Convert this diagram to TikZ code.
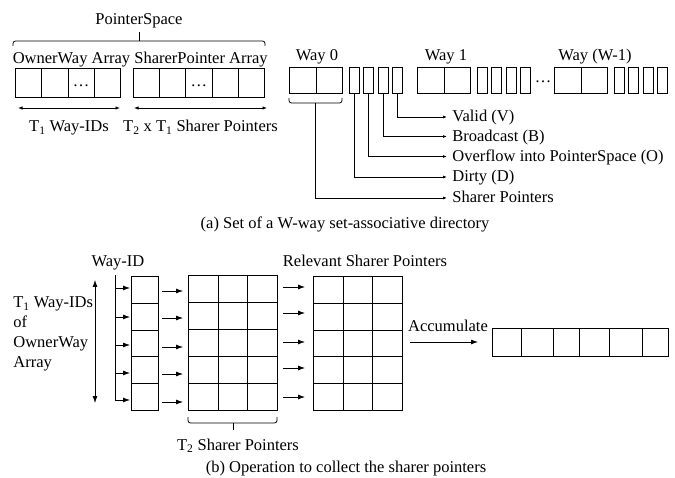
\documentclass[tikz,border=0pt]{standalone}
\usepackage{fontspec}
\setmainfont{Liberation Serif}
\usetikzlibrary{arrows.meta,calc}
\begin{document}
\begin{tikzpicture}[x=1pt,y=-1pt,line width=0.8pt,
  cell/.style={draw,rectangle,inner sep=0pt,anchor=north west},
  lbl/.style={font=\fontsize{16.5}{19}\selectfont,inner sep=0pt,anchor=base},
  tip/.style={-{Latex[length=7pt,width=5pt]}},
  stip/.style={-{Latex[length=4pt,width=3pt]}},
  dtip/.style={{Latex[length=4.5pt,width=3.5pt]}-{Latex[length=4.5pt,width=3.5pt]}},
  btip/.style={{Latex[length=7pt,width=5pt]}-{Latex[length=7pt,width=5pt]}},
  brk/.style={rounded corners=2.5pt}]
\useasboundingbox (0,0) rectangle (675,478);

% ---------- (a) left arrays
\node[lbl] (ps) at (139,25) {PointerSpace};
\coordinate (pb1) at (13,46); \coordinate (pb2) at (265,46);
\coordinate (pbm) at (139,41); \coordinate (pbt) at (139,32);
\draw[brk] (pb1) -- (13,41) -- (265,41) -- (pb2);
\draw (pbm) -- (pbt);
\node[lbl] (owl) at (71.5,64) {OwnerWay Array};
\node[lbl] (spl) at (201,64) {SharerPointer Array};
\foreach \i in {0,...,3}
  \node[cell,minimum width=26.25,minimum height=29] (ow\i) at ({15+\i*26.25},68) {};
\foreach \i in {0,...,4}
  \node[cell,minimum width=26.2,minimum height=29] (sp\i) at ({133+\i*26.2},68) {};
\node[lbl] (owd) at ($(ow2.center)+(0,3.5)$) {\dots};
\node[lbl] (spd) at ($(sp2.center)+(0,3.5)$) {\dots};
\coordinate (a1) at (18,108); \coordinate (a2) at (120,108);
\coordinate (a3) at (134,108); \coordinate (a4) at (267,108);
\draw[dtip] (a1) -- (a2);
\draw[dtip] (a3) -- (a4);
\node[lbl] (t1w) at (69,132) {T\textsubscript{1} Way-IDs};
\node[lbl] (t2t1) at (200.5,132) {T\textsubscript{2} x T\textsubscript{1} Sharer Pointers};

% ---------- (a) ways
\foreach \b/\n in {289/0,417/1,554/2}{
  \node[cell,minimum width=26.5,minimum height=26] (w\n a) at (\b,67) {};
  \node[cell,minimum width=26.5,minimum height=26] (w\n b) at (\b+26.5,67) {};
  \foreach \k in {0,...,3}
    \node[cell,minimum width=10,minimum height=26] (w\n s\k) at ({\b+59.5+\k*14.6},67) {};
}
\node[lbl] (wl0) at (317,61) {Way 0};
\node[lbl] (wl1) at (446,61) {Way 1};
\node[lbl] (wl2) at (595,61) {Way (W-1)};
\node[lbl] (wdots) at (543,83) {\dots};

\draw[brk] (289,98) -- (289,103) -- (342,103) -- (342,98);
\coordinate (brtip) at (315.5,103);

\coordinate (eV) at (447,117);
\coordinate (eB) at (447,136.5);
\coordinate (eO) at (447,156.5);
\coordinate (eD) at (447,177);
\coordinate (eS) at (447,198);
\draw[stip] (w0s3.south) |- (eV);
\draw[stip] (w0s2.south) |- (eB);
\draw[stip] (w0s1.south) |- (eO);
\draw[stip] (w0s0.south) |- (eD);
\draw[stip] (brtip) |- (eS);
\node[lbl,anchor=base west] (tV) at (452,122) {Valid (V)};
\node[lbl,anchor=base west] (tB) at (452,141.5) {Broadcast (B)};
\node[lbl,anchor=base west] (tO) at (452,161.5) {Overflow into PointerSpace (O)};
\node[lbl,anchor=base west] (tD) at (452,182) {Dirty (D)};
\node[lbl,anchor=base west] (tS) at (452,203) {Sharer Pointers};

\node[lbl] (capa) at (345,229) {(a) Set of a W-way set-associative directory};

% ---------- (b)
\node[lbl] (wid) at (118,267) {Way-ID};
\coordinate (vt) at (115,275);
\coordinate (vb) at (115,400);
\draw (vt) -- (vb);
\foreach \y in {288,317,345,373,400}
  \draw[tip] (115,\y) -- (130,\y);
\foreach \r in {0,...,4}
  \node[cell,minimum width=27,minimum height=26.8] (c\r) at (131,{276+\r*26.8}) {};
\foreach \y in {291,318,347,374,402}
  \draw[tip] (162,\y) -- (183,\y);
\foreach \r in {0,...,4}
  \foreach \c in {0,...,2}
    \node[cell,minimum width=29.67,minimum height=27] (ga\r\c) at ({188+\c*29.67},{275+\r*27}) {};
\foreach \y in {287,313,342,368,397}
  \draw[tip] (283,\y) -- (305,\y);
\foreach \r in {0,...,4}
  \foreach \c in {0,...,2}
    \node[cell,minimum width=29.67,minimum height=26.8] (gb\r\c) at ({313+\c*29.67},{276+\r*26.8}) {};
\node[lbl] (rsp) at (365,267) {Relevant Sharer Pointers};

\coordinate (d1) at (95,280); \coordinate (d2) at (95,403);
\draw[btip] (d1) -- (d2);
\node[lbl,anchor=base west] (l1) at (13,308) {T\textsubscript{1} Way-IDs};
\node[lbl,anchor=base west] (l2) at (13,328) {of};
\node[lbl,anchor=base west] (l3) at (13,348) {OwnerWay};
\node[lbl,anchor=base west] (l4) at (13,368) {Array};

\draw[brk] (188,417) -- (188,423) -- (277,423) -- (277,417);
\coordinate (gbm) at (233,423); \coordinate (gbt) at (233,430);
\draw (gbm) -- (gbt);
\node[lbl] (t2sp) at (238,450) {T\textsubscript{2} Sharer Pointers};

\node[lbl] (acc) at (448,332) {Accumulate};
\coordinate (ac1) at (410,342); \coordinate (ac2) at (478,342);
\draw[tip] (ac1) -- (ac2);
\foreach \xa/\xb [count=\n] in {492/521,521/553,553/579,579/609,609/642,642/668}
  \node[cell,minimum width={\xb-\xa},minimum height=28] (r\n) at (\xa,328) {};

\node[lbl] (capb) at (346,472) {(b) Operation to collect the sharer pointers};
\end{tikzpicture}
\end{document}
